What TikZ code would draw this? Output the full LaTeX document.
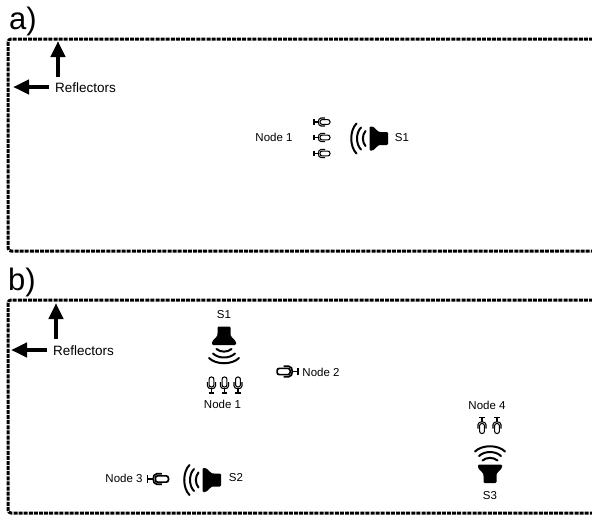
\documentclass[tikz,border=0pt]{standalone}
\usepackage{fontspec}
\setmainfont{Liberation Sans}
\usetikzlibrary{arrows.meta}
\tikzset{
  wall/.style={line width=3pt,dash pattern=on 4pt off 1.1pt,line join=round},
  lab/.style={inner sep=0pt,font=\fontsize{11.5pt}{13pt}\selectfont},
  reflab/.style={inner sep=0pt,anchor=west,font=\fontsize{13.5pt}{16pt}\selectfont},
  part/.style={inner sep=0pt,font=\fontsize{31pt}{34pt}\selectfont},
  ptr/.style={line width=4pt,-{Triangle[length=16pt,width=14pt]}},
  wave/.style={line width=2pt,line cap=round},
  thinmic/.style={line width=1.05pt},
  fatmic/.style={line width=1.7pt,scale=1.3},
  speaker/.pic={
    \fill[black,rounded corners=1.2pt] (-9.5,-12) -- (-6,-12) .. controls (-3,-9) and (-1,-7) .. (1,-6.5) -- (9,-6.5) -- (9,6.5) -- (1,6.5) .. controls (-1,7) and (-3,9) .. (-6,12) -- (-9.5,12) -- cycle;
    \draw[wave] (-22.5,-15) .. controls (-29.5,-8) and (-29.5,8) .. (-22.5,15);
    \draw[wave] (-18,-11) .. controls (-23.3,-5.5) and (-23.3,5.5) .. (-18,11);
    \draw[wave] (-13.5,-7.5) .. controls (-17,-3.5) and (-17,3.5) .. (-13.5,7.5);
  },
  mic/.pic={
    \draw[rounded corners=2.2pt] (-2.4,-8) rectangle (2.4,2);
    \draw (-4,-3) -- (-4,1) .. controls (-4,4.6) and (4,4.6) .. (4,1) -- (4,-3);
    \draw (0,3.8) -- (0,8);
    \draw (-2.8,8) -- (2.8,8);
  }
}
\begin{document}
\begin{tikzpicture}[x=1pt,y=-1pt]
\useasboundingbox (0,0) rectangle (592,515);
% panel a
\draw[wall,rounded corners=3pt] (593,39) -- (8,39) -- (8,251) -- (593,251);
\node[part] (pa) at (23,21) {a)};
\node[reflab] (ra) at (55,88) {Reflectors};
\coordinate (ua) at (58,76.5);
\coordinate (uat) at (58,41);
\coordinate (la) at (49,87);
\coordinate (lat) at (13,87);
\draw[ptr] (ua) -- (uat);
\draw[ptr] (la) -- (lat);
\node[lab] (n1a) at (274,137.5) {Node 1};
\node[lab] (s1a) at (402,138) {S1};
\pic at (379,138.5) {speaker};
\pic[rotate=-90,thinmic] at (322,122) {mic};
\pic[rotate=-90,thinmic] at (322,137.5) {mic};
\pic[rotate=-90,thinmic] at (322,153.5) {mic};
% panel b
\draw[wall,rounded corners=3pt] (593,300) -- (8,300) -- (8,513) -- (593,513);
\node[part] (pb) at (22,282) {b)};
\node[reflab] (rb) at (53,351) {Reflectors};
\coordinate (ub) at (56,339);
\coordinate (ubt) at (56,303);
\coordinate (lb) at (47,350);
\coordinate (lbt) at (11,350);
\draw[ptr] (ub) -- (ubt);
\draw[ptr] (lb) -- (lbt);
\node[lab] (s1b) at (224,315) {S1};
\node[lab] (n1b) at (222.5,404) {Node 1};
\node[lab] (n2) at (321,372) {Node 2};
\node[lab] (n3) at (124,478) {Node 3};
\node[lab] (s2) at (236,478) {S2};
\node[lab] (n4) at (487,405) {Node 4};
\node[lab] (s3) at (490,496) {S3};
\pic[rotate=90] at (224,335.5) {speaker};
\pic at (212,480) {speaker};
\pic[rotate=-90] at (490,474) {speaker};
\pic[thinmic] at (211.5,385) {mic};
\pic[thinmic] at (224.5,385) {mic};
\pic[thinmic] at (238,385) {mic};
\pic[rotate=90,fatmic] at (287.5,371.5) {mic};
\pic[rotate=-90,fatmic] at (158,479) {mic};
\pic[rotate=180,thinmic] at (482,425.5) {mic};
\pic[rotate=180,thinmic] at (497,425.5) {mic};
\end{tikzpicture}
\end{document}
